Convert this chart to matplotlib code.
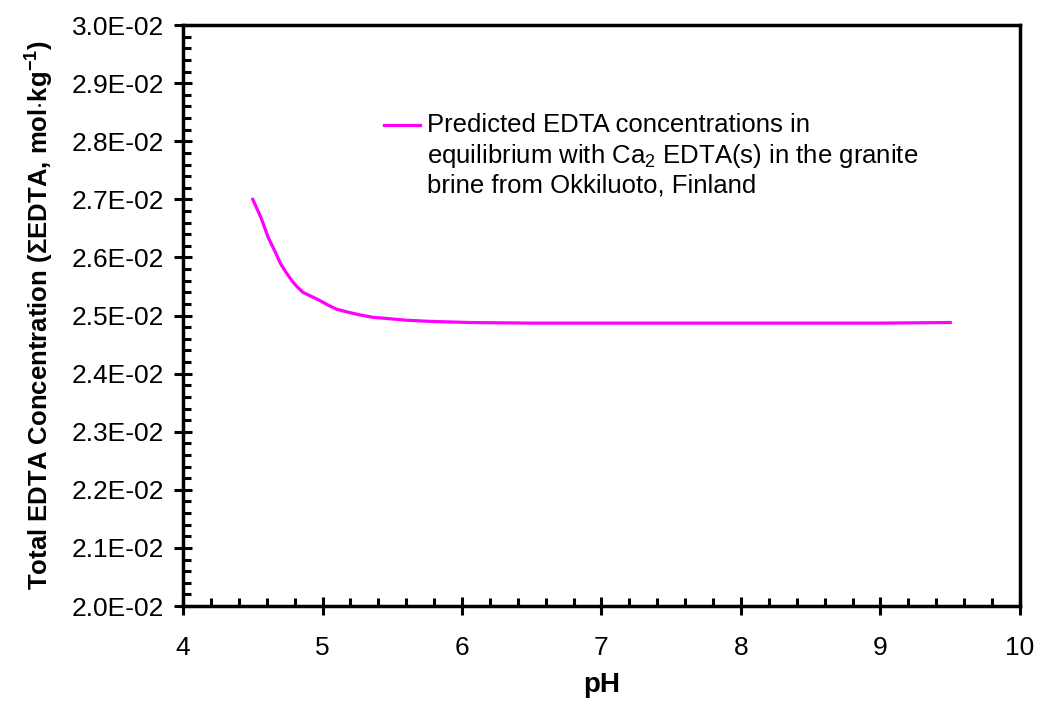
import matplotlib
matplotlib.use("Agg")
import matplotlib.pyplot as plt
import numpy as np
from matplotlib.ticker import MultipleLocator, FuncFormatter

# values
ph = [4.50, 4.56, 4.61, 4.66, 4.70, 4.74, 4.78, 4.82, 4.86, 4.92, 4.98, 5.04, 5.10,
      5.18, 5.27, 5.36, 5.46, 5.60, 5.77, 6.06, 6.5, 7.0, 7.5, 8.0, 8.5, 9.0, 9.5]
edta = [0.02700, 0.02668, 0.02635, 0.02610, 0.02589, 0.02574, 0.02560, 0.02549,
        0.02540, 0.02533, 0.02526, 0.02518, 0.02511, 0.02506, 0.02501, 0.02497,
        0.02495, 0.02492, 0.02490, 0.02488, 0.02487, 0.02487, 0.02487, 0.02487,
        0.02487, 0.02487, 0.02488]
label = "Predicted EDTA concentrations in\nequilibrium with Ca$_2$ EDTA(s) in the granite\nbrine from Okkiluoto, Finland"

plt.rcParams['font.family'] = ['Liberation Sans', 'DejaVu Sans']
plt.rcParams['mathtext.fontset'] = 'custom'
plt.rcParams['mathtext.rm'] = 'Liberation Sans'
plt.rcParams['mathtext.bf'] = 'Liberation Sans:bold'

fig = plt.figure(figsize=(10.41, 7.05), dpi=100)
ax = fig.add_axes([0.1758, 0.1404, 0.804, 0.824])

ax.plot(ph, edta, color='#ff00ff', lw=2.3, label=label)

ax.set_xlim(4, 10)
ax.set_ylim(0.02, 0.03)
ax.xaxis.set_major_locator(MultipleLocator(1))
ax.xaxis.set_minor_locator(MultipleLocator(0.2))
ax.yaxis.set_major_locator(MultipleLocator(0.001))
ax.yaxis.set_minor_locator(MultipleLocator(0.0002))
ax.yaxis.set_major_formatter(FuncFormatter(lambda v, p: f"{v:.1E}"))

ax.tick_params(which='major', direction='inout', length=13, width=2.2, labelsize=19)
ax.tick_params(axis='y', which='major', pad=7)
ax.tick_params(axis='x', which='major', pad=15)
ax.tick_params(which='minor', direction='in', length=6, width=2.2)
ax.tick_params(top=False, right=False, which='both')
for s in ['left', 'bottom', 'top', 'right']:
    ax.spines[s].set_linewidth(2.5)

ax.set_xlabel('pH', fontsize=20, fontweight='bold', labelpad=9)
ax.set_ylabel(r'Total EDTA Concentration ($\mathbf{\Sigma}$EDTA, mol$\mathbf{\cdot}$kg$^{\mathbf{-1}}$)',
              fontsize=18.5, fontweight='bold', labelpad=12)

fs = 18.5
leg = ax.legend(loc='upper left', bbox_to_anchor=(0.240, 0.848), frameon=False, fontsize=fs,
                handlelength=1.4, handletextpad=0.27, labelspacing=0.25,
                borderpad=0, borderaxespad=0)
# key line sits next to the first text line, as in the original
hl = leg.get_lines()[0]
hl.set_ydata(np.asarray(hl.get_ydata()) + 1.2 * fs)

fig.savefig('out.png', dpi=100)
